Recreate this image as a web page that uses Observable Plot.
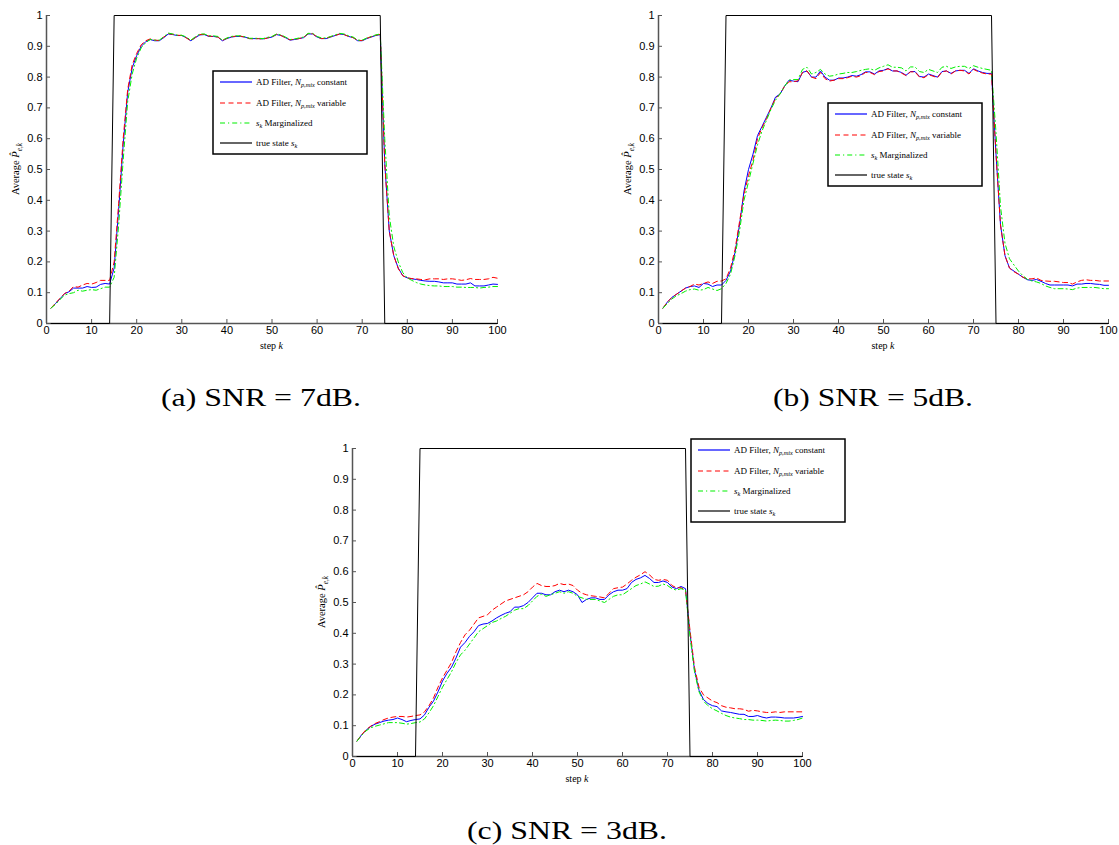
<!DOCTYPE html>
<html><head><meta charset="utf-8">
<script src="https://cdn.jsdelivr.net/npm/d3@7"></script>
<script src="https://cdn.jsdelivr.net/npm/@observablehq/plot@0.6"></script>
<style>
body{margin:0;background:#fff;}
#page{position:relative;width:1119px;height:845px;overflow:hidden;background:#fff;}
.panel{position:absolute;}
#overlay{position:absolute;left:0;top:0;pointer-events:none;}
</style></head><body><div id="page"></div>
<script>
const steps = d3.range(1, 101);
const xTicks = [0,10,20,30,40,50,60,70,80,90,100];
const yTicks = [0,0.1,0.2,0.3,0.4,0.5,0.6,0.7,0.8,0.9,1];
const yTickLabels = ["0","0.1","0.2","0.3","0.4","0.5","0.6","0.7","0.8","0.9","1"];
const trueK = [1,14,15,74,75,100];
const trueV = [0,0,1,1,0,0];
const captions = ["(a) SNR = 7dB.","(b) SNR = 5dB.","(c) SNR = 3dB."];

// (a) SNR = 7dB
const a_blue = [0.050,0.065,0.080,0.097,0.103,0.115,0.115,0.115,0.120,0.117,
0.118,0.127,0.130,0.128,0.180,0.370,0.580,0.750,0.830,0.870,
0.900,0.915,0.922,0.918,0.918,0.928,0.940,0.938,0.935,0.935,
0.928,0.918,0.928,0.937,0.938,0.932,0.932,0.930,0.918,0.925,
0.930,0.932,0.932,0.930,0.925,0.925,0.925,0.924,0.927,0.930,
0.938,0.935,0.928,0.920,0.922,0.925,0.928,0.940,0.940,0.930,
0.925,0.925,0.930,0.935,0.940,0.938,0.932,0.928,0.918,0.918,
0.925,0.930,0.935,0.938,0.520,0.300,0.220,0.180,0.155,0.148,
0.145,0.143,0.140,0.138,0.137,0.137,0.135,0.132,0.132,0.132,
0.128,0.128,0.128,0.132,0.122,0.122,0.122,0.125,0.128,0.127];
const a_red = [0.050,0.066,0.082,0.097,0.105,0.120,0.118,0.125,0.130,0.128,
0.133,0.140,0.140,0.140,0.200,0.390,0.600,0.760,0.840,0.877,
0.905,0.918,0.924,0.920,0.919,0.930,0.941,0.939,0.936,0.935,
0.927,0.918,0.929,0.938,0.939,0.933,0.932,0.930,0.919,0.926,
0.931,0.933,0.933,0.930,0.925,0.924,0.925,0.923,0.927,0.931,
0.939,0.935,0.928,0.921,0.923,0.925,0.929,0.941,0.941,0.930,
0.925,0.926,0.931,0.935,0.940,0.938,0.932,0.928,0.919,0.919,
0.926,0.931,0.936,0.939,0.520,0.300,0.220,0.178,0.155,0.148,
0.146,0.145,0.143,0.142,0.145,0.145,0.145,0.143,0.145,0.145,
0.143,0.140,0.142,0.146,0.143,0.143,0.143,0.145,0.150,0.147];
const a_green = [0.050,0.062,0.078,0.092,0.097,0.100,0.108,0.105,0.108,0.110,
0.108,0.113,0.118,0.118,0.150,0.320,0.530,0.720,0.810,0.862,
0.895,0.912,0.922,0.920,0.920,0.931,0.943,0.940,0.936,0.936,
0.930,0.920,0.931,0.940,0.940,0.934,0.934,0.932,0.920,0.927,
0.932,0.934,0.934,0.931,0.926,0.926,0.926,0.925,0.929,0.932,
0.940,0.937,0.930,0.922,0.924,0.927,0.930,0.942,0.942,0.932,
0.927,0.927,0.932,0.937,0.942,0.940,0.934,0.930,0.920,0.920,
0.927,0.932,0.937,0.940,0.600,0.350,0.250,0.200,0.165,0.148,
0.140,0.133,0.128,0.125,0.123,0.122,0.122,0.120,0.120,0.120,
0.118,0.118,0.117,0.117,0.117,0.115,0.117,0.118,0.120,0.120];

// (b) SNR = 5dB
const b_blue = [0.050,0.070,0.085,0.095,0.105,0.115,0.120,0.122,0.117,0.130,
0.128,0.120,0.125,0.125,0.140,0.170,0.230,0.320,0.430,0.500,
0.550,0.610,0.640,0.670,0.700,0.735,0.745,0.770,0.790,0.787,
0.785,0.815,0.820,0.800,0.800,0.820,0.800,0.790,0.790,0.797,
0.797,0.800,0.805,0.803,0.808,0.817,0.817,0.810,0.820,0.822,
0.828,0.820,0.820,0.815,0.806,0.818,0.818,0.802,0.800,0.810,
0.805,0.800,0.818,0.820,0.812,0.820,0.822,0.822,0.812,0.827,
0.820,0.815,0.812,0.812,0.550,0.320,0.220,0.180,0.170,0.160,
0.150,0.142,0.140,0.143,0.137,0.130,0.125,0.125,0.125,0.125,
0.125,0.122,0.128,0.128,0.130,0.130,0.128,0.127,0.124,0.124];
const b_red = [0.050,0.070,0.085,0.095,0.105,0.115,0.120,0.128,0.125,0.130,
0.135,0.130,0.137,0.138,0.145,0.180,0.240,0.330,0.420,0.480,
0.530,0.600,0.635,0.665,0.700,0.730,0.745,0.770,0.785,0.785,
0.788,0.815,0.820,0.800,0.795,0.815,0.795,0.787,0.790,0.795,
0.795,0.798,0.803,0.800,0.805,0.815,0.815,0.808,0.818,0.820,
0.827,0.820,0.820,0.813,0.805,0.817,0.817,0.800,0.798,0.808,
0.803,0.798,0.817,0.820,0.810,0.820,0.822,0.820,0.810,0.825,
0.818,0.813,0.810,0.810,0.550,0.320,0.220,0.180,0.168,0.160,
0.150,0.145,0.145,0.148,0.140,0.138,0.137,0.137,0.135,0.133,
0.133,0.128,0.135,0.140,0.142,0.140,0.140,0.138,0.138,0.138];
const b_green = [0.050,0.065,0.080,0.090,0.097,0.105,0.110,0.112,0.108,0.110,
0.117,0.112,0.107,0.113,0.130,0.160,0.220,0.300,0.400,0.460,
0.520,0.580,0.625,0.660,0.695,0.725,0.745,0.770,0.790,0.792,
0.792,0.825,0.832,0.810,0.815,0.825,0.810,0.803,0.805,0.810,
0.812,0.815,0.815,0.818,0.822,0.825,0.827,0.822,0.830,0.835,
0.840,0.832,0.832,0.830,0.820,0.833,0.833,0.818,0.815,0.825,
0.820,0.815,0.832,0.835,0.828,0.833,0.835,0.835,0.828,0.837,
0.832,0.828,0.825,0.822,0.620,0.380,0.260,0.210,0.190,0.170,
0.155,0.143,0.138,0.135,0.130,0.122,0.117,0.113,0.113,0.113,
0.112,0.110,0.115,0.117,0.117,0.117,0.117,0.115,0.113,0.113];

// (c) SNR = 3dB
const c_blue = [0.050,0.070,0.085,0.097,0.105,0.110,0.115,0.118,0.120,0.125,
0.120,0.113,0.117,0.120,0.122,0.135,0.160,0.180,0.210,0.245,
0.270,0.290,0.320,0.355,0.370,0.390,0.405,0.425,0.430,0.432,
0.440,0.450,0.458,0.465,0.470,0.485,0.485,0.490,0.500,0.515,
0.530,0.530,0.525,0.525,0.535,0.540,0.535,0.540,0.535,0.525,
0.500,0.510,0.515,0.515,0.510,0.510,0.525,0.535,0.540,0.540,
0.545,0.565,0.575,0.580,0.588,0.578,0.565,0.565,0.570,0.565,
0.550,0.545,0.552,0.545,0.400,0.280,0.215,0.185,0.172,0.165,
0.162,0.148,0.145,0.143,0.140,0.137,0.137,0.130,0.130,0.133,
0.128,0.125,0.128,0.128,0.127,0.125,0.125,0.125,0.127,0.130];
const c_red = [0.050,0.070,0.087,0.098,0.107,0.113,0.120,0.125,0.128,0.130,
0.130,0.128,0.130,0.133,0.135,0.145,0.165,0.190,0.225,0.255,
0.280,0.305,0.340,0.370,0.395,0.410,0.430,0.450,0.455,0.460,
0.475,0.485,0.495,0.505,0.510,0.515,0.520,0.525,0.535,0.550,
0.562,0.555,0.552,0.552,0.555,0.562,0.558,0.560,0.555,0.540,
0.530,0.525,0.522,0.520,0.518,0.515,0.530,0.545,0.548,0.550,
0.560,0.572,0.582,0.590,0.600,0.590,0.575,0.572,0.575,0.572,
0.555,0.548,0.548,0.540,0.410,0.290,0.225,0.200,0.190,0.180,
0.175,0.165,0.160,0.158,0.155,0.155,0.153,0.147,0.150,0.148,
0.145,0.143,0.143,0.145,0.143,0.145,0.145,0.145,0.145,0.145];
const c_green = [0.050,0.068,0.083,0.093,0.098,0.102,0.106,0.110,0.110,0.110,
0.108,0.105,0.107,0.110,0.112,0.122,0.142,0.165,0.195,0.225,
0.250,0.275,0.305,0.330,0.345,0.365,0.385,0.405,0.415,0.425,
0.435,0.440,0.448,0.455,0.465,0.475,0.480,0.480,0.490,0.505,
0.520,0.527,0.520,0.525,0.530,0.535,0.530,0.535,0.530,0.520,
0.515,0.510,0.510,0.510,0.505,0.500,0.510,0.520,0.525,0.525,
0.535,0.545,0.555,0.560,0.567,0.560,0.552,0.553,0.560,0.555,
0.545,0.540,0.545,0.540,0.390,0.275,0.210,0.180,0.165,0.155,
0.148,0.140,0.133,0.128,0.125,0.123,0.120,0.120,0.118,0.118,
0.117,0.115,0.117,0.118,0.117,0.115,0.115,0.117,0.120,0.125];

const COLORS = {blue:"#0000ff", red:"#ff0000", green:"#00f000", truth:"#000000", axis:"#555555"};
const DASH = {red:"5,3.5", green:"5,3,1.2,3"};
const SERIF = "'Liberation Serif','Times New Roman',serif";
const SANS = "'Liberation Sans',Arial,Helvetica,sans-serif";

const page = document.getElementById("page");

function makePanel(blue, red, green, left, top, width, mL, mR) {
  const H = 350, mT = 15, mB = 27;
  const fw = width - mL - mR, fh = H - mT - mB;
  const rows = s => steps.map((k, i) => ({k, v: s[i]}));
  const truthRows = trueK.map((k, i) => ({k, v: trueV[i]}));
  const chart = Plot.plot({
    width, height: H, marginLeft: mL, marginRight: mR, marginTop: mT, marginBottom: mB,
    style: {fontFamily: SANS, fontSize: "11px", color: "#000", background: "transparent", overflow: "visible"},
    x: {domain: [0, 100]},
    y: {domain: [0, 1]},
    marks: [
      Plot.line(rows(blue), {x: "k", y: "v", stroke: COLORS.blue, strokeWidth: 1}),
      Plot.line(rows(red), {x: "k", y: "v", stroke: COLORS.red, strokeWidth: 1, strokeDasharray: DASH.red}),
      Plot.line(rows(green), {x: "k", y: "v", stroke: COLORS.green, strokeWidth: 1, strokeDasharray: DASH.green}),
      Plot.ruleY([0], {stroke: COLORS.axis, strokeWidth: 1.5}),
      Plot.ruleX([0], {stroke: COLORS.axis, strokeWidth: 1.5}),
      Plot.line(truthRows, {x: "k", y: "v", stroke: COLORS.truth, strokeWidth: 1}),
      Plot.ruleX(xTicks, {x: d => d, stroke: COLORS.axis, strokeWidth: 1, insetTop: fh - 4}),
      Plot.ruleY(yTicks, {y: d => d, stroke: COLORS.axis, strokeWidth: 1, insetRight: fw - 4}),
      Plot.axisX({ticks: xTicks, tickSize: 0, tickPadding: 3, label: null, tickFormat: d => String(d)}),
      Plot.axisY({ticks: yTicks, tickSize: 0, tickPadding: 4, label: null, tickFormat: d => yTickLabels[yTicks.indexOf(d)]})
    ]
  });
  const div = document.createElement("div");
  div.className = "panel";
  div.style.left = left + "px";
  div.style.top = top + "px";
  div.appendChild(chart);
  page.appendChild(div);
  return {fx0: left + mL, fx1: left + width - mR, fy0: top + mT, fy1: top + H - mB};
}

const pa = makePanel(a_blue, a_red, a_green, 0, 0, 510, 46, 13);
const pb = makePanel(b_blue, b_red, b_green, 610, 0, 509, 48, 11);
const pc = makePanel(c_blue, c_red, c_green, 306, 433, 509, 46, 13);

const ov = d3.select(page).append("svg").attr("id", "overlay")
  .attr("width", 1119).attr("height", 845);

function subText(g, parts, size) {
  const t = g.append("text").attr("font-family", SERIF).attr("font-size", size).attr("fill", "#000");
  let shifted = false;
  parts.forEach(([txt, it, sub]) => {
    const ts = t.append("tspan").text(txt);
    if (it) ts.attr("font-style", "italic");
    if (sub && !shifted) { ts.attr("dy", size * 0.25).attr("font-size", size * 0.7); shifted = true; }
    else if (!sub && shifted) { ts.attr("dy", -size * 0.25); shifted = false; }
    else if (sub) ts.attr("font-size", size * 0.7);
  });
  return t;
}

function axisLabels(p) {
  const cx = (p.fx0 + p.fx1) / 2, cy = (p.fy0 + p.fy1) / 2;
  const gx = ov.append("g").attr("transform", `translate(${cx},${p.fy1 + 26})`);
  subText(gx, [["step ", false, false], ["k", true, false]], 10).attr("text-anchor", "middle");
  const gy = ov.append("g").attr("transform", `translate(${p.fx0 - 27},${cy}) rotate(-90)`);
  subText(gy, [["Average ", false, false], ["P\u0302", true, false], ["e,k", true, true]], 10.5).attr("text-anchor", "middle");
}
axisLabels(pa); axisLabels(pb); axisLabels(pc);

function legend(x0, y0) {
  const g = ov.append("g").attr("transform", `translate(${x0},${y0})`);
  g.append("rect").attr("width", 154).attr("height", 83).attr("fill", "#fff")
    .attr("stroke", "#000").attr("stroke-width", 1.5);
  const ys = [11, 32, 52, 72];
  const styles = [[COLORS.blue, null], [COLORS.red, DASH.red], [COLORS.green, DASH.green], [COLORS.truth, null]];
  const labels = [
    [["AD Filter, ", false, false], ["N", true, false], ["p,mix", true, true], [" constant", false, false]],
    [["AD Filter, ", false, false], ["N", true, false], ["p,mix", true, true], [" variable", false, false]],
    [["s", true, false], ["k", true, true], [" Marginalized", false, false]],
    [["true state ", false, false], ["s", true, false], ["k", true, true]]
  ];
  ys.forEach((y, i) => {
    g.append("line").attr("x1", 7).attr("x2", 39).attr("y1", y).attr("y2", y)
      .attr("stroke", styles[i][0]).attr("stroke-width", 1.2)
      .attr("stroke-dasharray", styles[i][1]);
    const gt = g.append("g").attr("transform", `translate(43,${y + 3})`);
    subText(gt, labels[i], 9);
  });
}
legend(213, 71);
legend(828, 103);
legend(691, 439);

function caption(txt, cx, baseline) {
  ov.append("text").attr("x", cx).attr("y", baseline).attr("text-anchor", "middle")
    .attr("font-family", SERIF).attr("font-size", 25).attr("fill", "#000")
    .attr("textLength", 200).attr("lengthAdjust", "spacingAndGlyphs").text(txt);
}
caption(captions[0], 261, 406);
caption(captions[1], 873, 406);
caption(captions[2], 567, 839);
</script></body></html>
